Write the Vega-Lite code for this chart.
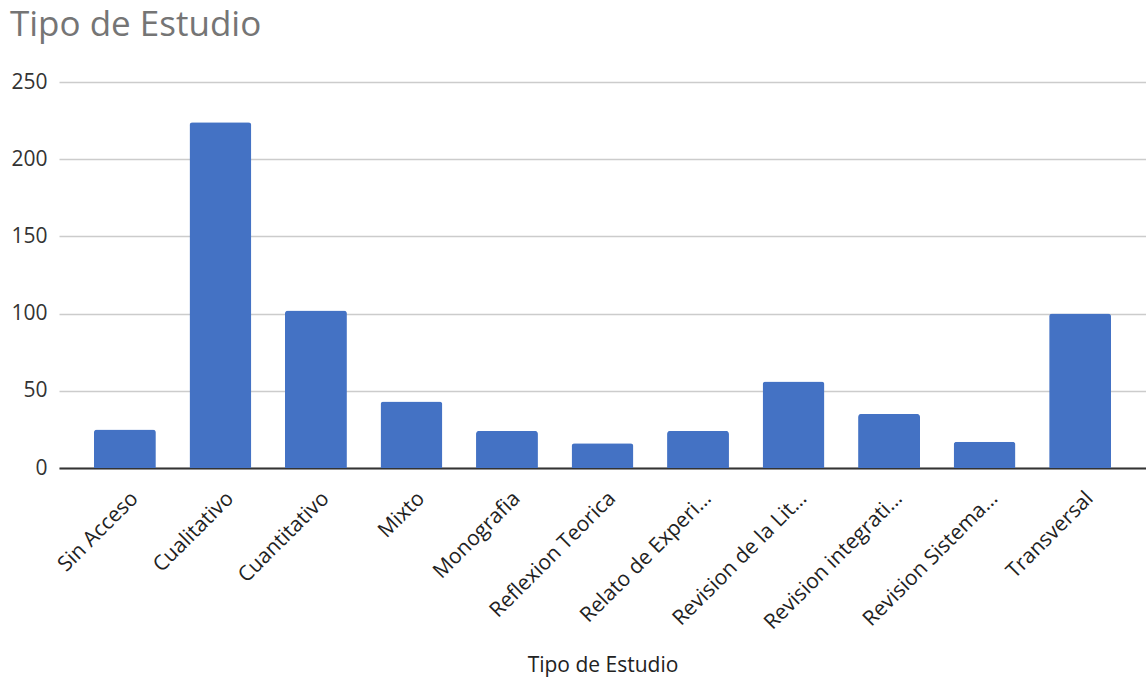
{
  "$schema": "https://vega.github.io/schema/vega-lite/v6.json",
  "autosize": {"type": "none"},
  "padding": {"left": 59, "top": 82, "right": 0, "bottom": 210},
  "width": 1087,
  "height": 386,
  "background": "white",
  "title": {
    "text": "Tipo de Estudio",
    "anchor": "start",
    "frame": "group",
    "dx": -49,
    "offset": 0,
    "baseline": "alphabetic",
    "fontSize": 35,
    "fontWeight": "normal",
    "font": "Open Sans",
    "color": "#757575"
  },
  "data": {
    "values": [
      {"tipo": "Sin Acceso", "n": 25},
      {"tipo": "Cualitativo", "n": 224},
      {"tipo": "Cuantitativo", "n": 102},
      {"tipo": "Mixto", "n": 43},
      {"tipo": "Monografia", "n": 24},
      {"tipo": "Reflexion Teorica", "n": 16},
      {"tipo": "Relato de Experiencia", "n": 24},
      {"tipo": "Revision de la Literatura", "n": 56},
      {"tipo": "Revision integrativa", "n": 35},
      {"tipo": "Revision Sistematica", "n": 17},
      {"tipo": "Transversal", "n": 100}
    ]
  },
  "mark": {"type": "bar", "color": "#4472C4", "cornerRadiusTopLeft": 3, "cornerRadiusTopRight": 3},
  "encoding": {
    "x": {
      "field": "tipo",
      "type": "nominal",
      "sort": null,
      "scale": {"paddingInner": 0.352, "paddingOuter": 0.366},
      "axis": {
        "title": "Tipo de Estudio",
        "titleFont": "Open Sans",
        "titleFontSize": 21,
        "titleFontWeight": "normal",
        "titleColor": "#222222",
        "titleBaseline": "middle",
        "titleY": 197,
        "labelAngle": -45,
        "labelAlign": "right",
        "labelBaseline": "middle",
        "labelFont": "Open Sans",
        "labelFontSize": 21,
        "labelColor": "#222222",
        "labelPadding": 27,
        "labelOffset": 10,
        "labelLimit": 186,
        "ticks": false,
        "domainColor": "#333333",
        "domainWidth": 2
      }
    },
    "y": {
      "field": "n",
      "type": "quantitative",
      "scale": {"domain": [0, 250]},
      "axis": {
        "title": null,
        "values": [0, 50, 100, 150, 200, 250],
        "labelFont": "Open Sans",
        "labelFontSize": 21,
        "labelColor": "#333333",
        "labelPadding": 12,
        "ticks": false,
        "domain": false,
        "gridColor": "#cccccc",
        "gridWidth": 1.5
      }
    }
  },
  "config": {"view": {"stroke": null}}
}
